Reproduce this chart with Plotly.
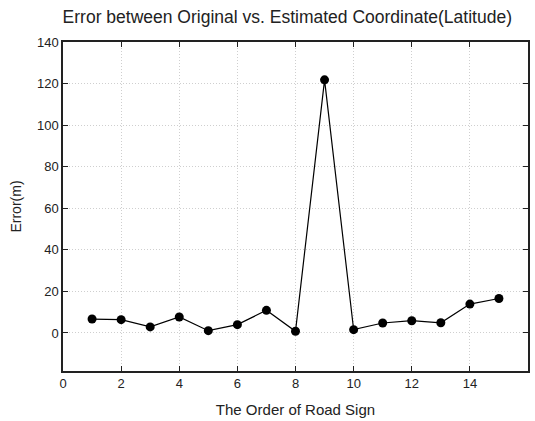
import plotly.graph_objects as go

order = list(range(1, 16))
error_m = [6.7, 6.4, 2.9, 7.7, 1.1, 4.0, 10.9, 0.8, 121.8, 1.6, 4.8, 5.9, 4.9, 13.9, 16.6]
x_ticks = [0, 2, 4, 6, 8, 10, 12, 14, 16]
y_ticks = [0, 20, 40, 60, 80, 100, 120, 140]

fig = go.Figure()
fig.add_trace(go.Scatter(
    x=order, y=error_m, mode="lines+markers",
    line=dict(color="black", width=1.2),
    marker=dict(color="black", size=9),
    showlegend=False,
))

font = "Liberation Sans, Arial, sans-serif"
axis_common = dict(
    showline=True, linecolor="#222", linewidth=1.5, mirror="ticks",
    ticks="inside", ticklen=5, tickcolor="#222",
    showgrid=True, gridcolor="#cfcfcf", griddash="1px,2px", gridwidth=1,
    zeroline=False, tickfont=dict(family=font, size=13, color="#222"),
    automargin=False,
)
fig.update_xaxes(range=[0, 16], tickvals=x_ticks,
                 title=dict(text="The Order of Road Sign", font=dict(family=font, size=15, color="#222"), standoff=14),
                 **axis_common)
fig.update_yaxes(range=[-18.3, 140], tickvals=y_ticks,
                 title=dict(text="Error(m)", font=dict(family=font, size=14, color="#222"), standoff=12),
                 **axis_common)

fig.update_layout(
    width=535, height=421,
    margin=dict(l=63, r=7, t=42, b=50),
    plot_bgcolor="white", paper_bgcolor="white",
    title=dict(text="Error between Original vs. Estimated Coordinate(Latitude)",
               font=dict(family=font, size=17.5, color="#222"),
               x=0.537, xanchor="center", y=0.96, yanchor="middle"),
)
fig.write_html("out.html")
